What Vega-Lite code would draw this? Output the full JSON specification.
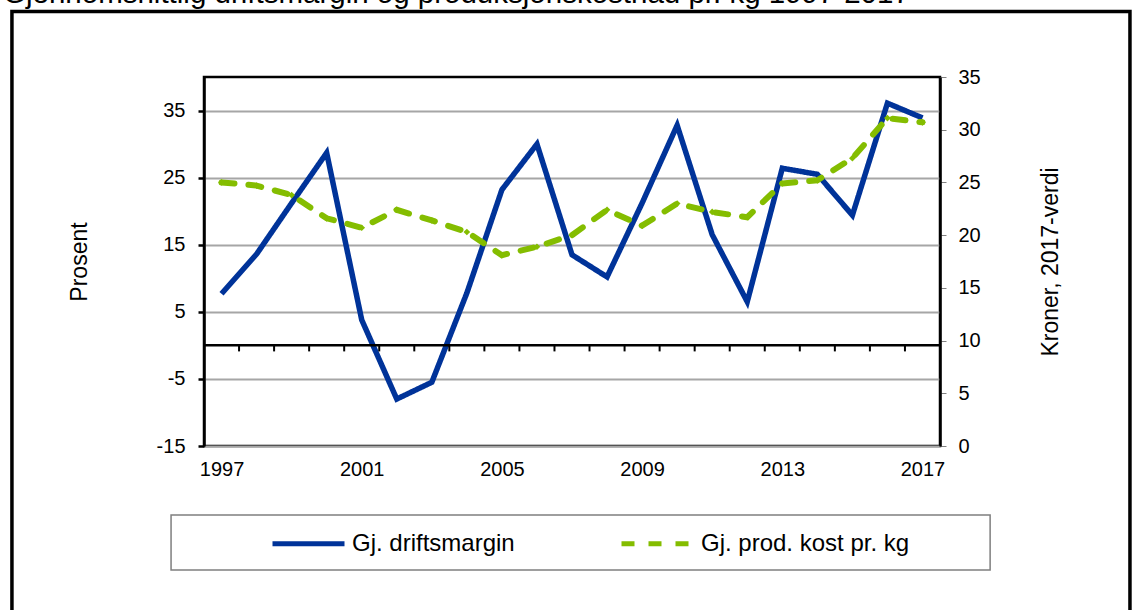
{
  "$schema": "https://vega.github.io/schema/vega-lite/v6.json",
  "width": 736,
  "height": 369,
  "autosize": "none",
  "padding": {"left": 204, "top": 77, "right": 192, "bottom": 164},
  "background": "white",
  "config": {
    "font": "Liberation Sans",
    "view": {"stroke": "black", "strokeWidth": 2.5},
    "axis": {
      "labelFont": "Liberation Sans",
      "labelFontSize": 20,
      "labelColor": "black",
      "labelSeparation": -30,
      "titleFont": "Liberation Sans",
      "titleFontSize": 23,
      "titleFontWeight": "normal",
      "titleColor": "black"
    },
    "legend": {
      "orient": "none",
      "legendX": 66,
      "legendY": 428,
      "direction": "horizontal",
      "title": null,
      "symbolType": "stroke",
      "symbolSize": 5184,
      "symbolStrokeWidth": 5,
      "labelFont": "Liberation Sans",
      "labelFontSize": 24,
      "labelColor": "black",
      "labelLimit": 400,
      "labelOffset": 5,
      "columnPadding": 96,
      "padding": 0
    }
  },
  "title": {
    "text": "Gjennomsnittlig driftsmargin og produksjonskostnad pr. kg 1997-2017",
    "anchor": "start",
    "frame": "group",
    "dx": -201,
    "offset": 0,
    "font": "Liberation Sans",
    "fontSize": 29.5,
    "fontWeight": "normal",
    "color": "black"
  },
  "datasets": {
    "series": [
      {"year": 1997, "series": "Gj. driftsmargin", "value": 7.7},
      {"year": 1998, "series": "Gj. driftsmargin", "value": 13.6},
      {"year": 1999, "series": "Gj. driftsmargin", "value": 21.2},
      {"year": 2000, "series": "Gj. driftsmargin", "value": 28.7},
      {"year": 2001, "series": "Gj. driftsmargin", "value": 3.8},
      {"year": 2002, "series": "Gj. driftsmargin", "value": -8.0},
      {"year": 2003, "series": "Gj. driftsmargin", "value": -5.5},
      {"year": 2004, "series": "Gj. driftsmargin", "value": 7.8},
      {"year": 2005, "series": "Gj. driftsmargin", "value": 23.2},
      {"year": 2006, "series": "Gj. driftsmargin", "value": 30.0},
      {"year": 2007, "series": "Gj. driftsmargin", "value": 13.5},
      {"year": 2008, "series": "Gj. driftsmargin", "value": 10.2},
      {"year": 2009, "series": "Gj. driftsmargin", "value": 21.2},
      {"year": 2010, "series": "Gj. driftsmargin", "value": 32.8},
      {"year": 2011, "series": "Gj. driftsmargin", "value": 16.5},
      {"year": 2012, "series": "Gj. driftsmargin", "value": 6.5},
      {"year": 2013, "series": "Gj. driftsmargin", "value": 26.4},
      {"year": 2014, "series": "Gj. driftsmargin", "value": 25.5},
      {"year": 2015, "series": "Gj. driftsmargin", "value": 19.4},
      {"year": 2016, "series": "Gj. driftsmargin", "value": 36.1},
      {"year": 2017, "series": "Gj. driftsmargin", "value": 33.9},
      {"year": 1997, "series": "Gj. prod. kost pr. kg", "value": 25.0},
      {"year": 1998, "series": "Gj. prod. kost pr. kg", "value": 24.7},
      {"year": 1999, "series": "Gj. prod. kost pr. kg", "value": 23.8},
      {"year": 2000, "series": "Gj. prod. kost pr. kg", "value": 21.6},
      {"year": 2001, "series": "Gj. prod. kost pr. kg", "value": 20.7},
      {"year": 2002, "series": "Gj. prod. kost pr. kg", "value": 22.4},
      {"year": 2003, "series": "Gj. prod. kost pr. kg", "value": 21.4},
      {"year": 2004, "series": "Gj. prod. kost pr. kg", "value": 20.3},
      {"year": 2005, "series": "Gj. prod. kost pr. kg", "value": 18.1},
      {"year": 2006, "series": "Gj. prod. kost pr. kg", "value": 18.9},
      {"year": 2007, "series": "Gj. prod. kost pr. kg", "value": 20.0},
      {"year": 2008, "series": "Gj. prod. kost pr. kg", "value": 22.4},
      {"year": 2009, "series": "Gj. prod. kost pr. kg", "value": 20.9},
      {"year": 2010, "series": "Gj. prod. kost pr. kg", "value": 23.0},
      {"year": 2011, "series": "Gj. prod. kost pr. kg", "value": 22.2},
      {"year": 2012, "series": "Gj. prod. kost pr. kg", "value": 21.7},
      {"year": 2013, "series": "Gj. prod. kost pr. kg", "value": 24.9},
      {"year": 2014, "series": "Gj. prod. kost pr. kg", "value": 25.2},
      {"year": 2015, "series": "Gj. prod. kost pr. kg", "value": 27.3},
      {"year": 2016, "series": "Gj. prod. kost pr. kg", "value": 31.1},
      {"year": 2017, "series": "Gj. prod. kost pr. kg", "value": 30.7}
    ],
    "bounds": [
      {"b": 1997.5}, {"b": 1998.5}, {"b": 1999.5}, {"b": 2000.5}, {"b": 2001.5},
      {"b": 2002.5}, {"b": 2003.5}, {"b": 2004.5}, {"b": 2005.5}, {"b": 2006.5},
      {"b": 2007.5}, {"b": 2008.5}, {"b": 2009.5}, {"b": 2010.5}, {"b": 2011.5},
      {"b": 2012.5}, {"b": 2013.5}, {"b": 2014.5}, {"b": 2015.5}, {"b": 2016.5}
    ]
  },
  "layer": [
    {
      "layer": [
        {
          "data": {"name": "series"},
          "transform": [{"filter": "datum.series === 'Gj. driftsmargin'"}],
          "mark": {"type": "line", "strokeWidth": 5.5},
          "encoding": {
            "x": {
              "field": "year",
              "type": "quantitative",
              "title": null,
              "scale": {"domain": [1996.5, 2017.5], "nice": false, "zero": false},
              "axis": {
                "values": [1997, 2001, 2005, 2009, 2013, 2017],
                "format": "d",
                "ticks": false,
                "domain": false,
                "grid": false,
                "labelPadding": 13
              }
            },
            "y": {
              "field": "value",
              "type": "quantitative",
              "scale": {"domain": [-15, 40], "nice": false, "zero": false},
              "axis": {
                "title": "Prosent",
                "values": [-15, -10, -5, 0, 5, 10, 15, 20, 25, 30, 35, 40],
                "labelExpr": "'' + datum.value",
                "labelOverlap": false,
                "labelSeparation": -30,
                "grid": true,
                "gridColor": "#a6a6a6",
                "gridWidth": 1.8,
                "gridOpacity": 1,
                "tickColor": "black",
                "tickWidth": 2.5,
                "tickSize": 6,
                "domainColor": "black",
                "domainWidth": 2.5,
                "labelPadding": 13,
                "titlePadding": 65
              }
            },
            "color": {
              "field": "series",
              "type": "nominal",
              "scale": {"domain": ["Gj. driftsmargin", "Gj. prod. kost pr. kg"], "range": ["#003399", "#84bd00"]}
            },
            "strokeDash": {
              "field": "series",
              "type": "nominal",
              "scale": {"domain": ["Gj. driftsmargin", "Gj. prod. kost pr. kg"], "range": [[1, 0], [13, 14]]}
            }
          }
        },
        {
          "data": {"values": [{}]},
          "mark": {"type": "rule", "color": "black", "strokeWidth": 2.5},
          "encoding": {"y": {"datum": 0, "type": "quantitative"}}
        },
        {
          "data": {"name": "bounds"},
          "mark": {"type": "rule", "color": "black", "strokeWidth": 2},
          "encoding": {
            "x": {"field": "b", "type": "quantitative"},
            "y": {"datum": 0, "type": "quantitative"},
            "y2": {"datum": -0.9}
          }
        },
        {
          "data": {"values": [{}]},
          "mark": {"type": "rect", "filled": false, "stroke": "black", "strokeWidth": 3.5, "clip": false},
          "encoding": {
            "x": {"datum": 1991.02, "type": "quantitative"},
            "x2": {"datum": 2022.92},
            "y": {"datum": 49.76, "type": "quantitative"},
            "y2": {"datum": -40.9}
          }
        },
        {
          "data": {"values": [{}]},
          "mark": {"type": "rect", "filled": false, "stroke": "#7f7f7f", "strokeWidth": 1.5, "clip": false},
          "encoding": {
            "x": {"datum": 1995.56, "type": "quantitative"},
            "x2": {"datum": 2018.93},
            "y": {"datum": -25.28, "type": "quantitative"},
            "y2": {"datum": -33.48}
          }
        }
      ]
    },
    {
      "layer": [
        {
          "data": {"name": "series"},
          "transform": [{"filter": "datum.series === 'Gj. prod. kost pr. kg'"}],
          "mark": {"type": "line", "strokeWidth": 6, "strokeCap": "round"},
          "encoding": {
            "x": {"field": "year", "type": "quantitative"},
            "y": {
              "field": "value",
              "type": "quantitative",
              "scale": {"domain": [0, 35], "nice": false, "zero": false},
              "axis": {
                "orient": "right",
                "title": "Kroner, 2017-verdi",
                "titleAngle": 270,
                "values": [0, 5, 10, 15, 20, 25, 30, 35],
                "labelOverlap": false,
                "grid": false,
                "tickColor": "#808080",
                "tickWidth": 1,
                "tickSize": 6,
                "domainColor": "black",
                "domainWidth": 2.5,
                "labelPadding": 12,
                "titlePadding": 82
              }
            },
            "color": {"field": "series", "type": "nominal"},
            "strokeDash": {"field": "series", "type": "nominal"}
          }
        },
        {
          "data": {"name": "series"},
          "transform": [{"filter": "datum.series === 'Gj. prod. kost pr. kg'"}],
          "mark": {"type": "point", "shape": "diamond", "filled": true, "size": 45, "color": "#84bd00", "opacity": 1},
          "encoding": {
            "x": {"field": "year", "type": "quantitative"},
            "y": {"field": "value", "type": "quantitative"}
          }
        }
      ]
    }
  ],
  "resolve": {"scale": {"y": "independent"}}
}
